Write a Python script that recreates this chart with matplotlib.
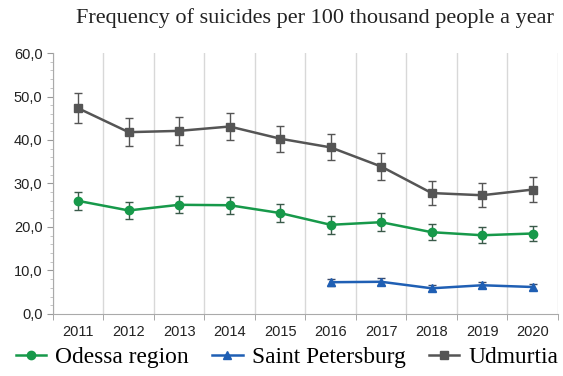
import matplotlib
matplotlib.use("Agg")
import matplotlib.pyplot as plt
import numpy as np
from matplotlib.lines import Line2D
from matplotlib.ticker import MultipleLocator, FuncFormatter

years = [2011, 2012, 2013, 2014, 2015, 2016, 2017, 2018, 2019, 2020]
odessa = [26.0, 23.8, 25.1, 25.0, 23.2, 20.5, 21.1, 18.8, 18.1, 18.5]
odessa_err = [2.0, 2.0, 2.0, 2.0, 2.0, 2.0, 2.0, 1.8, 1.8, 1.8]
spb_years = [2016, 2017, 2018, 2019, 2020]
spb = [7.3, 7.4, 5.9, 6.6, 6.2]
spb_err = [0.8, 0.8, 0.7, 0.7, 0.7]
udm = [47.3, 41.8, 42.1, 43.1, 40.3, 38.3, 33.9, 27.8, 27.3, 28.6]
udm_err = [3.5, 3.2, 3.2, 3.2, 3.0, 3.0, 3.0, 2.8, 2.8, 2.8]

GREEN = "#17994a"
BLUE = "#1f5fb4"
GRAY = "#555555"
TEXT = "#222222"

fig = plt.figure(figsize=(5.63, 3.76), dpi=100)
ax = fig.add_axes([0.094, 0.165, 0.897, 0.694])

x = np.arange(len(years))
xs = np.array([years.index(y) for y in spb_years])

ax.errorbar(x, udm, yerr=udm_err, color=GRAY, marker="s", markersize=6,
            linewidth=1.8, elinewidth=1.0, ecolor=GRAY, capsize=3, zorder=3)
ax.errorbar(x, odessa, yerr=odessa_err, color=GREEN, marker="o", markersize=6,
            linewidth=1.8, elinewidth=1.0, ecolor="#3a5a4a", capsize=3, zorder=4)
ax.errorbar(xs, spb, yerr=spb_err, color=BLUE, marker="^", markersize=6,
            linewidth=1.8, elinewidth=1.0, ecolor="#3a4a6a", capsize=3, zorder=4)

ax.set_xlim(-0.5, 9.5)
ax.set_ylim(0, 60)
ax.yaxis.set_major_locator(MultipleLocator(10))
ax.yaxis.set_minor_locator(MultipleLocator(2))
ax.yaxis.set_major_formatter(FuncFormatter(lambda v, p: f"{v:.1f}".replace(".", ",")))
ax.set_xticks(x)
ax.set_xticklabels([str(y) for y in years])
ax.set_xticks(np.arange(-0.5, 10, 1), minor=True)
ax.tick_params(axis="x", which="major", length=0, pad=8)
ax.tick_params(axis="x", which="minor", length=4, color="#999999")
ax.tick_params(axis="y", which="major", length=4, color="#999999")
ax.tick_params(axis="y", which="minor", length=2, color="#bbbbbb")
for lbl in ax.get_xticklabels() + ax.get_yticklabels():
    lbl.set_fontfamily("Liberation Sans")
    lbl.set_fontsize(10.5)
    lbl.set_color(TEXT)

ax.xaxis.grid(True, which="minor", color="#d8d8d8", linewidth=1.0)
ax.set_axisbelow(True)
for s in ["top", "right"]:
    ax.spines[s].set_visible(False)
ax.spines["left"].set_color("#aaaaaa")
ax.spines["bottom"].set_color("#aaaaaa")

fig.text(0.56, 0.952, "Frequency of suicides per 100 thousand people a year",
         ha="center", va="center", fontsize=16, family="Liberation Serif", color=TEXT)

handles = [
    Line2D([], [], color=GREEN, marker="o", markersize=6, linewidth=1.8),
    Line2D([], [], color=BLUE, marker="^", markersize=6, linewidth=1.8),
    Line2D([], [], color=GRAY, marker="s", markersize=6, linewidth=1.8),
]
fig.legend(handles, ["Odessa region", "Saint Petersburg", "Udmurtia"], loc="center",
           bbox_to_anchor=(0.51, 0.05), ncol=3, frameon=False,
           prop={"family": "Liberation Serif", "size": 16.8},
           handlelength=1.3, handletextpad=0.4, columnspacing=1.0)

fig.savefig("out.png", dpi=100, facecolor="white")
